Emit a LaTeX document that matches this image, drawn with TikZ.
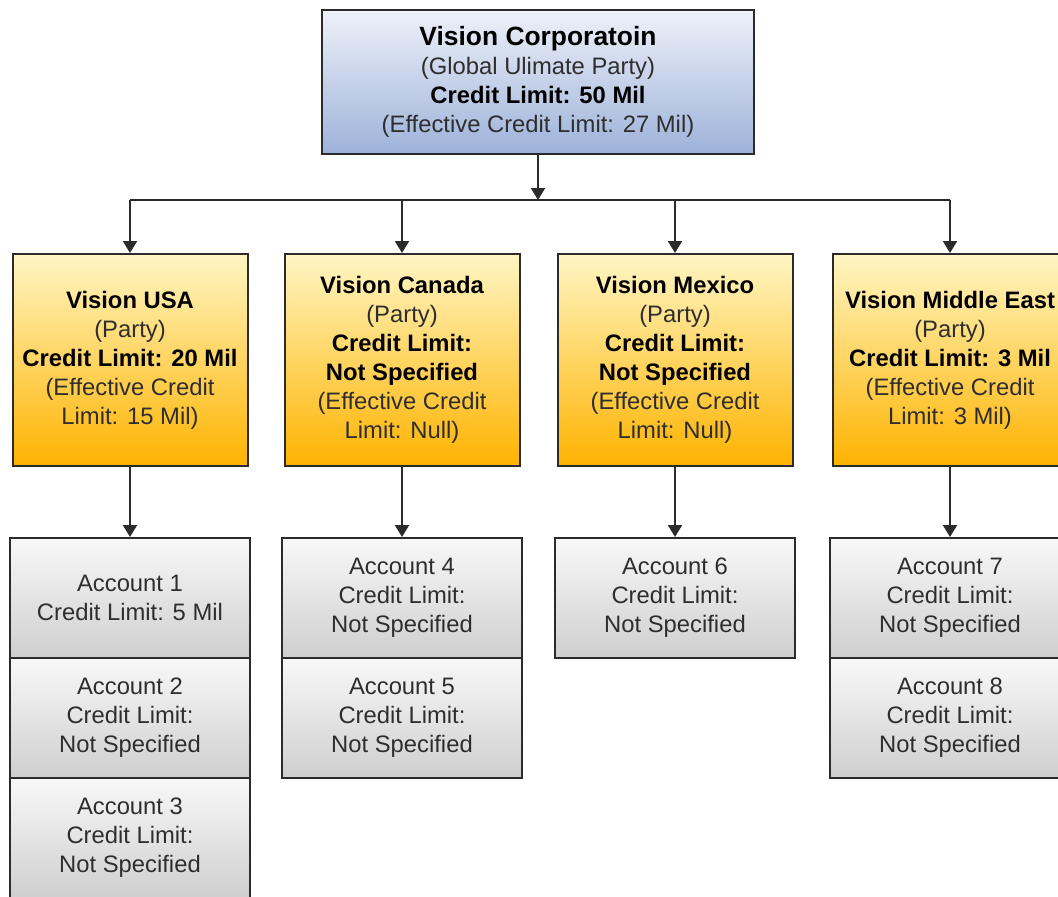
\documentclass[tikz,border=0pt]{standalone}
\usepackage{fontspec}
\setmainfont{Liberation Sans}
\usetikzlibrary{arrows.meta}
\definecolor{corptop}{HTML}{EEF1F8}
\definecolor{corpbot}{HTML}{9DB2DA}
\definecolor{partytop}{HTML}{FFF6C4}
\definecolor{partybot}{HTML}{FFB300}
\definecolor{accttop}{HTML}{F8F8F8}
\definecolor{acctbot}{HTML}{CFCFCF}
\definecolor{boxline}{HTML}{2B2B2B}
\definecolor{textgray}{HTML}{2E2E2E}

\begin{document}
\begin{tikzpicture}[x=0.5pt,y=-0.5pt,
	box/.style={draw=boxline, line width=1pt, align=center, inner sep=0pt,
		text=textgray, font=\fontsize{11.9}{14.5}\selectfont},
	corpbox/.style={box, minimum width=216pt, minimum height=72pt,
		top color=corptop, bottom color=corpbot},
	partybox/.style={box, minimum width=117.5pt, minimum height=106pt,
		top color=partytop, bottom color=partybot},
	acctbox/.style={box, minimum width=120pt, minimum height=60pt,
		top color=accttop, bottom color=acctbot},
	link/.style={line width=1pt, draw=boxline, -{Triangle[length=6pt,width=7pt]}}]
				\useasboundingbox (0, 0) rectangle (1058, 896);
				\clip (0, 0) rectangle (1058, 896);
				% Top party:
				\node[corpbox](corp) at (538, 82){\textcolor{black}{\bfseries\fontsize{13.2}{15}\selectfont Vision Corporatoin}\\(Global Ulimate Party)\\\textcolor{black}{\bfseries Credit Limit: 50 Mil}\\(Effective Credit Limit: 27 Mil)};
				% Parties:
				\node[partybox](usa) at (130, 360){\textcolor{black}{\bfseries Vision USA}\\(Party)\\\textcolor{black}{\bfseries Credit Limit: 20 Mil}\\(Effective Credit\\Limit: 15 Mil)};
				\node[partybox](canada) at (402, 360){\textcolor{black}{\bfseries Vision Canada}\\(Party)\\\textcolor{black}{\bfseries Credit Limit:}\\\textcolor{black}{\bfseries Not Specified}\\(Effective Credit\\Limit: Null)};
				\node[partybox](mexico) at (675, 360){\textcolor{black}{\bfseries Vision Mexico}\\(Party)\\\textcolor{black}{\bfseries Credit Limit:}\\\textcolor{black}{\bfseries Not Specified}\\(Effective Credit\\Limit: Null)};
				\node[partybox](mideast) at (950, 360){\textcolor{black}{\bfseries Vision Middle East}\\(Party)\\\textcolor{black}{\bfseries Credit Limit: 3 Mil}\\(Effective Credit\\Limit: 3 Mil)};
				% Accounts:
				\node[acctbox](acct1) at (130, 598){Account 1\\Credit Limit: 5 Mil};
				\node[acctbox](acct2) at (130, 718){Account 2\\Credit Limit:\\Not Specified};
				\node[acctbox](acct3) at (130, 838){Account 3\\Credit Limit:\\Not Specified};
				\node[acctbox](acct4) at (402, 598){Account 4\\Credit Limit:\\Not Specified};
				\node[acctbox](acct5) at (402, 718){Account 5\\Credit Limit:\\Not Specified};
				\node[acctbox](acct6) at (675, 598){Account 6\\Credit Limit:\\Not Specified};
				\node[acctbox](acct7) at (950, 598){Account 7\\Credit Limit:\\Not Specified};
				\node[acctbox](acct8) at (950, 718){Account 8\\Credit Limit:\\Not Specified};
				% Wires:
				\coordinate (bar) at (538, 200);
				\draw[link] (corp.south) -- (bar);
				\draw[line width=1pt, draw=boxline] (usa.north |- bar) -- (mideast.north |- bar);
				\foreach \p in {usa, canada, mexico, mideast}
					\draw[link] (\p.north |- bar) -- (\p.north);
				\draw[link] (usa.south) -- (acct1.north);
				\draw[link] (canada.south) -- (acct4.north);
				\draw[link] (mexico.south) -- (acct6.north);
				\draw[link] (mideast.south) -- (acct7.north);
			\end{tikzpicture}
\end{document}
